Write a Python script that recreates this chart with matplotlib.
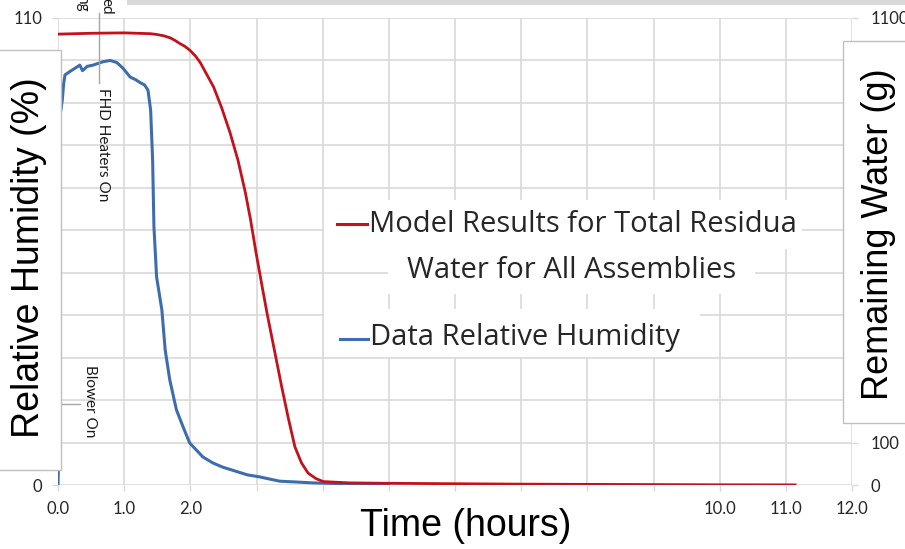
import matplotlib
matplotlib.use("Agg")
import matplotlib.pyplot as plt
from matplotlib.patches import Rectangle
from matplotlib.lines import Line2D

# Measured relative humidity (%) vs time (hours)
rh_time = [0.0, 0.005, 0.01, 0.05, 0.065, 0.085, 0.106, 0.18, 0.26, 0.33, 0.37,
           0.40, 0.44, 0.53, 0.68, 0.79, 0.89, 0.98, 1.09, 1.17, 1.24, 1.31,
           1.36, 1.40, 1.43, 1.45, 1.49, 1.57, 1.62, 1.69, 1.79, 1.89, 1.99,
           2.19, 2.34, 2.49, 2.86, 3.05, 3.35, 3.85, 4.5, 5.0]
rh_value = [0.0, 3.5, 85.0, 89.0, 90.7, 94.5, 96.6, 97.4, 98.2, 98.9, 97.6,
            98.0, 98.6, 98.9, 99.7, 100.0, 99.5, 98.2, 96.1, 95.5, 94.8, 94.2,
            93.0, 88.3, 76.6, 60.8, 49.0, 41.2, 31.8, 24.7, 17.7, 13.7, 9.9,
            6.6, 5.2, 4.2, 2.4, 1.9, 0.9, 0.5, 0.2, 0.1]

# Model total residual water (g) vs time (hours)
water_time = [0.0, 0.5, 1.0, 1.4, 1.5, 1.6, 1.7, 1.77, 1.84, 1.92, 2.0, 2.08,
              2.15, 2.35, 2.47, 2.60, 2.72, 2.83, 2.91, 2.99, 3.08, 3.16, 3.27,
              3.38, 3.48, 3.58, 3.68, 3.78, 3.9, 4.01, 4.4, 5.0, 6.0, 7.0, 8.0,
              9.0, 10.0, 11.14]
water_g = [1062, 1064, 1065, 1063, 1061, 1058, 1053, 1047, 1040, 1033, 1023, 1010,
           995, 938, 890, 830, 765, 690, 625, 550, 472, 404, 318,
           232, 158, 90, 52, 28, 15, 8, 5, 4, 3, 2, 1.5,
           1, 0.5, 0.3]

# Ticks; only the labels left uncovered by the title panels are printed
x_ticks = list(range(13))
x_tick_labels = ["0.0", "1.0", "2.0", "", "", "", "", "", "", "", "10.0", "11.0", "12.0"]
rh_ticks = list(range(0, 111, 10))
rh_tick_labels = ["0"] + [""] * 10 + ["110"]
water_ticks = list(range(0, 1101, 100))
water_tick_labels = ["0", "100"] + [""] * 9 + ["1100"]

W, H = 905, 549
fig = plt.figure(figsize=(W / 100, H / 100), dpi=100)
fig.patch.set_facecolor("white")


def fx(x):
    return x / W


def fy(y):
    return 1 - y / H


GRID = "#D9D9D9"
TXT = "#262626"
tick_font = dict(family="Lato", size=12, color=TXT)

ax = fig.add_axes([fx(58), fy(485), fx(852) - fx(58), fy(18) - fy(485)])
ax.set_xlim(0, 12)
ax.set_ylim(0, 110)
ax2 = ax.twinx()
ax2.set_ylim(0, 1100)
for a in (ax, ax2):
    for s in a.spines.values():
        s.set_visible(False)

ax.set_xticks(x_ticks)
ax.set_xticklabels(x_tick_labels, fontdict=tick_font)
ax.set_yticks(rh_ticks)
ax.set_yticklabels(rh_tick_labels, fontdict=tick_font)
ax2.set_yticks(water_ticks)
ax2.set_yticklabels(water_tick_labels, fontdict=tick_font)
ax.tick_params(axis="both", length=4.5, width=1, color=GRID, pad=7)
ax2.tick_params(axis="y", length=4.5, width=1, color=GRID, pad=9)
ax.grid(True, color=GRID, lw=1.2)
ax.set_axisbelow(True)

BLUE = "#3E6DAE"
RED = "#C3121C"
ax.plot(rh_time, rh_value, color=BLUE, lw=2.2, solid_joinstyle="round", zorder=3)
ax2.plot(water_time, water_g, color=RED, lw=2.0, solid_joinstyle="round", zorder=3)


def rh(y):
    return (485 - y) / 4.245


def hr(x):
    return (x - 58) / 66.17


# event markers
note = dict(family="Lato", size=11, color="#1A1A1A", rotation=-90, ha="center", clip_on=False)
ax.plot([hr(99), hr(99)], [rh(83), rh(13)], color="#A6A6A6", lw=1, clip_on=False, zorder=4)
ax.text(hr(103.5), rh(88), "FHD Heaters On", va="top", **note)
ax.plot([hr(61), hr(80)], [rh(404), rh(404)], color="#A6A6A6", lw=1, clip_on=False, zorder=4)
ax.text(hr(90), rh(365), "Blower On", va="top", **note)
ax.text(hr(82), rh(13), "ng", va="bottom", **note)
ax.text(hr(106), rh(15), "ed", va="bottom", **note)


def box(x0, y0, x1, y1, edge="none", z=10):
    fig.add_artist(Rectangle((fx(x0), fy(y1)), fx(x1) - fx(x0), fy(y0) - fy(y1),
                             transform=fig.transFigure, facecolor="white",
                             edgecolor=edge, lw=1, zorder=z))


# top strip
fig.add_artist(Rectangle((fx(127), fy(4.5)), fx(905) - fx(127), fy(0) - fy(4.5),
                         transform=fig.transFigure, facecolor="#D9D9D9",
                         edgecolor="none", zorder=10))

# axis title panels
box(-5, 50, 61, 470, edge="#BFBFBF")
fig.text(fx(29), fy(258), "Relative Humidity (%)", family="Liberation Sans", size=27,
         rotation=90, ha="center", va="center", color="black", zorder=11)
box(843, 40.5, 910, 423, edge="#BFBFBF")
fig.text(fx(878), fy(234), "Remaining Water (g)", family="Liberation Sans", size=26,
         rotation=90, ha="center", va="center", color="black", zorder=11)
box(235, 496, 690, 552)
fig.text(fx(466), fy(526), "Time (hours)", family="Liberation Sans", size=27,
         ha="center", va="center", color="black", zorder=11)

# legend
leg_font = dict(family="Open Sans", size=21, color=TXT, va="center", zorder=11)
box(324, 200, 802, 249)
box(388, 249, 755, 294)
box(324, 309, 700, 357)
fig.add_artist(Line2D([fx(337), fx(367)], [fy(224), fy(224)], color=RED, lw=2.2,
                      transform=fig.transFigure, zorder=11))
fig.text(fx(369), fy(224), "Model Results for Total Residua", ha="left", **leg_font)
fig.text(fx(572), fy(270), "Water for All Assemblies", ha="center", **leg_font)
fig.add_artist(Line2D([fx(340), fx(368)], [fy(339), fy(339)], color=BLUE, lw=2.2,
                      transform=fig.transFigure, zorder=11))
fig.text(fx(370), fy(338), "Data Relative Humidity", ha="left", **leg_font)

fig.savefig("out.png", dpi=100, facecolor="white")
